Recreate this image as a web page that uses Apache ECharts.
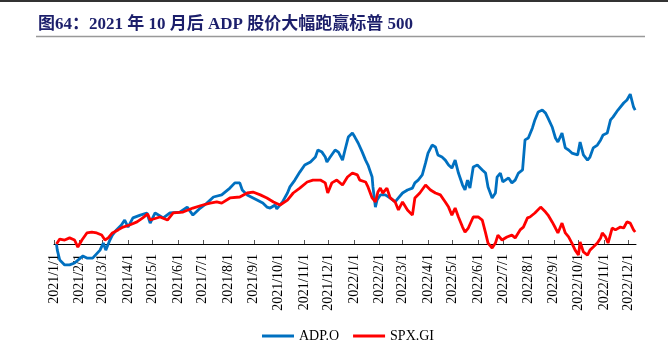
<!DOCTYPE html>
<html>
<head>
<meta charset="utf-8">
<script src="https://cdn.jsdelivr.net/npm/echarts@6/dist/echarts.min.js"></script>
<style>
  html, body { margin: 0; padding: 0; background: #fff; }
  #main { width: 668px; height: 350px; }
</style>
</head>
<body>
<div id="main"></div>
<script>
  // 累计涨跌幅（%），以 2021 年初为基准
  const adpDates = [
    '2021-01-04', '2021-01-05', '2021-01-08', '2021-01-14', '2021-01-20', '2021-01-26',
    '2021-02-02', '2021-02-05', '2021-02-10', '2021-02-17', '2021-02-26',
    '2021-03-02', '2021-03-05', '2021-03-10', '2021-03-13', '2021-03-18', '2021-03-24', '2021-03-28',
    '2021-04-01', '2021-04-07', '2021-04-16', '2021-04-24', '2021-04-28',
    '2021-05-04', '2021-05-14', '2021-05-22',
    '2021-06-03', '2021-06-12', '2021-06-19', '2021-06-28',
    '2021-07-06', '2021-07-14', '2021-07-24',
    '2021-08-03', '2021-08-09', '2021-08-15', '2021-08-18', '2021-08-24',
    '2021-09-05', '2021-09-12', '2021-09-17', '2021-09-21', '2021-09-27', '2021-09-29',
    '2021-10-06', '2021-10-12', '2021-10-15', '2021-10-21', '2021-10-27',
    '2021-11-02', '2021-11-09', '2021-11-15', '2021-11-18', '2021-11-23', '2021-11-27', '2021-11-29',
    '2021-12-03', '2021-12-09', '2021-12-13', '2021-12-18', '2021-12-21', '2021-12-25', '2021-12-30',
    '2022-01-02', '2022-01-06', '2022-01-11', '2022-01-15', '2022-01-18', '2022-01-23', '2022-01-24', '2022-01-27', '2022-01-29',
    '2022-02-02', '2022-02-08', '2022-02-14', '2022-02-20', '2022-02-24',
    '2022-03-01', '2022-03-07', '2022-03-13', '2022-03-16', '2022-03-20', '2022-03-25', '2022-03-29',
    '2022-04-01', '2022-04-06', '2022-04-10', '2022-04-13', '2022-04-18', '2022-04-22', '2022-04-26', '2022-04-30',
    '2022-05-04', '2022-05-08', '2022-05-13', '2022-05-16', '2022-05-19', '2022-05-22', '2022-05-26', '2022-05-31',
    '2022-06-06', '2022-06-10', '2022-06-13', '2022-06-18', '2022-06-22', '2022-06-24', '2022-06-28',
    '2022-07-01', '2022-07-08', '2022-07-12', '2022-07-16', '2022-07-20', '2022-07-25', '2022-07-28',
    '2022-08-01', '2022-08-06', '2022-08-09', '2022-08-13', '2022-08-18', '2022-08-22', '2022-08-25', '2022-08-30',
    '2022-09-03', '2022-09-06', '2022-09-11', '2022-09-15', '2022-09-19', '2022-09-23', '2022-09-30',
    '2022-10-03', '2022-10-07', '2022-10-12', '2022-10-15', '2022-10-19', '2022-10-24', '2022-10-28', '2022-10-31',
    '2022-11-05', '2022-11-09', '2022-11-12', '2022-11-18', '2022-11-25', '2022-11-29',
    '2022-12-03', '2022-12-07', '2022-12-09'
  ]
  const adpValues = [
    0, -2.6, -6.8, -8.9, -8.9, -8.1,
    -6.0, -5.1, -6.0, -6.0, -2.6,
    0.4, -2.6, 1.7, 3.8, 6.0, 8.1, 10.2,
    7.2, 11.1, 12.3, 13.2, 8.9,
    13.2, 11.1, 13.2,
    13.6, 15.7, 12.3, 15.3,
    17.4, 20.0, 20.9,
    23.8, 26.0, 26.0, 23.0, 20.9,
    18.7, 17.4, 15.7, 15.3, 16.6, 14.9,
    17.9, 21.7, 24.3, 27.2, 30.6,
    33.6, 34.9, 37.0, 40.0, 39.1, 37.0, 34.9,
    37.0, 40.0, 39.1, 35.7, 40.0, 45.5, 47.2,
    45.5, 43.0, 39.1, 35.7, 33.6, 28.5, 24.3, 15.7, 18.7,
    20.9, 20.9, 19.6, 17.9, 19.6,
    21.7, 23.0, 23.8, 26.0, 27.2, 29.4, 34.5,
    38.7, 42.1, 41.3, 37.9, 37.0, 35.7, 33.6, 32.3,
    35.7, 30.2, 25.1, 23.0, 27.2, 23.8, 32.8, 33.6,
    31.5, 30.2, 24.3, 19.6, 21.7, 28.5, 30.2,
    26.4, 28.1, 26.0, 27.2, 30.2, 31.5, 44.3,
    45.1, 49.4, 52.8, 56.2, 57.0, 55.7, 53.6, 49.8,
    45.1, 43.4, 47.2, 40.9, 40.0, 38.7, 37.9,
    43.4, 37.9, 35.7, 37.0, 40.9, 42.1, 44.3, 46.4,
    47.2, 52.8, 54.0, 57.0, 60.0, 61.3,
    63.8, 58.3, 57.0
  ]

  const spxDates = [
    '2021-01-04', '2021-01-08', '2021-01-14', '2021-01-20', '2021-01-26', '2021-01-30',
    '2021-02-04', '2021-02-10', '2021-02-16', '2021-02-22', '2021-02-28',
    '2021-03-04', '2021-03-08', '2021-03-13', '2021-03-20', '2021-03-26',
    '2021-04-03', '2021-04-12', '2021-04-19', '2021-04-25', '2021-04-28',
    '2021-05-10', '2021-05-19', '2021-05-26',
    '2021-06-07', '2021-06-19',
    '2021-07-01', '2021-07-10', '2021-07-18', '2021-07-24',
    '2021-08-03', '2021-08-15', '2021-08-24', '2021-08-31',
    '2021-09-09', '2021-09-17', '2021-09-25',
    '2021-10-03', '2021-10-12', '2021-10-19', '2021-10-27',
    '2021-11-05', '2021-11-12', '2021-11-21', '2021-11-27', '2021-11-30',
    '2021-12-05', '2021-12-11', '2021-12-18', '2021-12-24', '2021-12-30',
    '2022-01-05', '2022-01-08', '2022-01-15', '2022-01-18', '2022-01-23', '2022-01-27', '2022-01-30',
    '2022-02-02', '2022-02-05', '2022-02-10', '2022-02-14', '2022-02-20', '2022-02-24',
    '2022-03-01', '2022-03-07', '2022-03-13', '2022-03-16', '2022-03-22', '2022-03-29',
    '2022-04-04', '2022-04-10', '2022-04-16', '2022-04-22', '2022-04-26', '2022-04-30',
    '2022-05-04', '2022-05-08', '2022-05-13', '2022-05-16', '2022-05-20', '2022-05-26',
    '2022-06-01', '2022-06-06', '2022-06-10', '2022-06-13', '2022-06-18', '2022-06-22', '2022-06-25', '2022-06-30',
    '2022-07-06', '2022-07-12', '2022-07-16', '2022-07-22', '2022-07-26', '2022-07-31',
    '2022-08-03', '2022-08-09', '2022-08-16', '2022-08-22', '2022-08-25', '2022-08-30',
    '2022-09-03', '2022-09-06', '2022-09-11', '2022-09-15', '2022-09-19', '2022-09-23', '2022-09-27',
    '2022-10-01', '2022-10-03', '2022-10-07', '2022-10-12', '2022-10-15', '2022-10-19', '2022-10-24', '2022-10-28', '2022-10-30',
    '2022-11-03', '2022-11-06', '2022-11-11', '2022-11-15', '2022-11-21', '2022-11-25', '2022-11-29',
    '2022-12-03', '2022-12-07', '2022-12-09'
  ]
  const spxValues = [
    0, 2.1, 1.7, 2.6, 1.7, -1.3,
    1.7, 4.7, 5.1, 4.7, 3.8,
    1.7, 2.6, 4.7, 6.0, 7.2,
    8.1, 9.4, 11.1, 12.8, 10.2,
    11.5, 10.2, 13.2,
    13.6, 15.3,
    16.6, 17.4, 17.9, 17.4,
    19.6, 20.0, 21.7, 22.1,
    20.9, 19.6, 17.9,
    16.6, 18.7, 21.7, 23.8,
    26.4, 27.2, 27.2, 26.0, 21.7,
    26.0, 27.2, 25.1, 28.5, 30.2,
    29.4, 27.2, 26.4, 24.3, 19.6, 17.9, 22.1,
    23.8, 21.7, 23.8, 19.6, 17.9, 14.5,
    17.9, 14.5, 12.3, 19.6, 21.7, 25.1,
    23.0, 21.7, 20.9, 17.9, 15.7, 12.3,
    15.3, 11.5, 7.2, 5.1, 6.8, 11.5,
    11.5, 10.2, 4.7, 0.4, -1.7, 0.4, 3.8, 1.7,
    3.0, 3.8, 2.6, 6.0, 7.2, 11.1,
    11.5, 13.2, 15.7, 13.6, 12.3, 9.4,
    6.8, 4.7, 8.9, 4.7, 3.0, 0.4, -2.6,
    -4.7, 0.9, -3.4, -4.7, -2.6, -1.3, 0.4, 2.6, 4.7,
    3.0, 0.4, 6.8, 6.0, 7.2, 6.8, 9.4,
    8.9, 6.0, 5.1
  ]

  const seriesNames = ['ADP.O', 'SPX.GI']
  const seriesColors = ['#0070C0', '#FF0000']
  const titleText = '图64：2021 年 10 月后 ADP 股价大幅跑赢标普 500'

  function zip(dates, values) {
    return dates.map(function(d, i) { return [d, values[i]] })
  }

  const serifFont = '"Liberation Serif", "Noto Sans CJK SC", serif'
  const chart = echarts.init(document.getElementById('main'))
  const DAY = 24 * 3600 * 1000

  chart.setOption({
    animation: false,
    backgroundColor: '#fff',
    title: {
      text: titleText,
      left: 33,
      top: 11,
      textStyle: {
        fontFamily: serifFont,
        fontSize: 17,
        fontWeight: 'bold',
        color: '#1c1f6b'
      }
    },
    graphic: [
      { type: 'line', shape: { x1: 0, y1: 1, x2: 668, y2: 1 }, style: { stroke: '#333', lineWidth: 2 } },
      { type: 'line', shape: { x1: 36, y1: 36.5, x2: 645, y2: 36.5 }, style: { stroke: '#999', lineWidth: 1.5 } }
    ],
    legend: {
      left: 257,
      top: 324,
      icon: 'rect',
      itemWidth: 32,
      itemHeight: 3,
      itemGap: 14,
      textStyle: { fontFamily: serifFont, fontSize: 14, color: '#000' },
      data: seriesNames
    },
    // 横轴放在零线（网格底边），低于零的部分画在网格之外
    grid: {
      left: 54,
      right: 32,
      top: 67.75,
      height: 176.25
    },
    xAxis: {
      type: 'time',
      min: '2021-01-01',
      max: '2022-12-10',
      minInterval: 28 * DAY,
      maxInterval: 31 * DAY,
      splitLine: { show: false },
      axisLine: { lineStyle: { color: '#000', width: 1 } },
      axisTick: { show: true, inside: true, length: 4, lineStyle: { color: '#555' } },
      axisLabel: {
        rotate: 90,
        interval: 0,
        margin: 10,
        fontFamily: serifFont,
        fontSize: 14,
        color: '#000',
        formatter: function(val) {
          const d = new Date(val)
          return d.getFullYear() + '/' + (d.getMonth() + 1) + '/' + d.getDate()
        }
      }
    },
    yAxis: {
      type: 'value',
      show: false,
      min: 0,
      max: 75,
      splitLine: { show: false }
    },
    series: [
      {
        name: seriesNames[0],
        type: 'line',
        symbol: 'none',
        clip: false,
        color: seriesColors[0],
        lineStyle: { width: 2.8, color: seriesColors[0] },
        data: zip(adpDates, adpValues)
      },
      {
        name: seriesNames[1],
        type: 'line',
        symbol: 'none',
        clip: false,
        color: seriesColors[1],
        lineStyle: { width: 2.8, color: seriesColors[1] },
        data: zip(spxDates, spxValues)
      }
    ]
  })
</script>
</body>
</html>
